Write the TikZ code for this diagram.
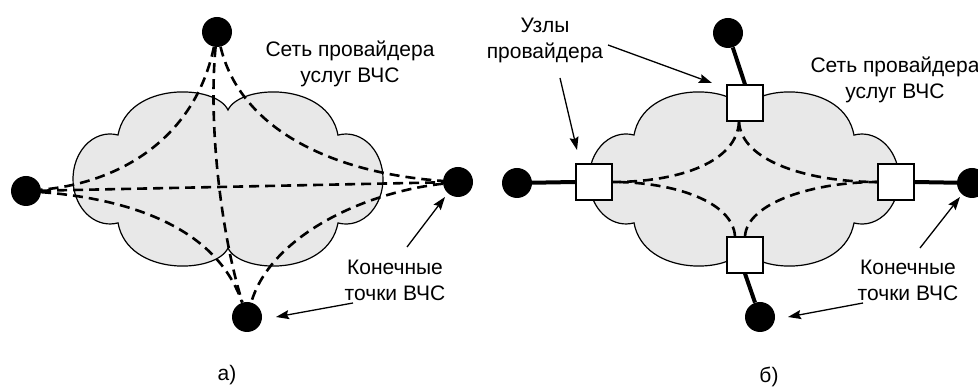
\documentclass[tikz,border=0pt]{standalone}
\usepackage{fontspec}
\setmainfont{Liberation Sans}
\usetikzlibrary{arrows.meta}
\definecolor{cloudgray}{RGB}{232,232,232}
\pgfdeclarelayer{cl}
\pgfdeclarelayer{ln}
\pgfsetlayers{cl,ln,main}
\tikzset{
 cloudshape/.style={fill=cloudgray, draw=black, line width=1.2pt},
 dsh/.style={line width=2.6pt, dash pattern=on 10pt off 6pt},
 enddot/.style={circle, fill=black, minimum size=30pt, inner sep=0pt},
 pnode/.style={draw, fill=white, line width=1.2pt, minimum size=36pt, inner sep=0pt},
 thk/.style={line width=4pt},
 lbl/.style={font=\fontsize{21}{26}\selectfont, align=center, inner sep=0pt},
 arr/.style={line width=1.3pt, -{Stealth[length=13pt, width=9pt, inset=2pt]}},
}
\newcommand\mycloud[2]{%
 \begin{scope}[shift={(#1,#2)}]
  \path[cloudshape] (0,69) .. controls (12,95) and (100,98) .. (110,43.9)
   arc[start angle=102.5, end angle=-102.5, x radius=37pt, y radius=45pt]
   .. controls (100,-98) and (12,-95) .. (0,-69)
   .. controls (-12,-95) and (-100,-98) .. (-110,-43.9)
   arc[start angle=-77.5, end angle=-282.5, x radius=37pt, y radius=45pt]
   .. controls (-100,98) and (-12,95) .. (0,69) -- cycle;
 \end{scope}}
\begin{document}
\begin{tikzpicture}[x=1pt, y=1pt]
\useasboundingbox (0,0) rectangle (978,388);
\clip (0,0) rectangle (978,388);
\begin{pgfonlayer}{cl}
\mycloud{228}{209}
\mycloud{744}{209}
\end{pgfonlayer}
% ---------- panel a ----------
\node[enddot] (aT) at (217,356) {};
\node[enddot] (aL) at (26,197) {};
\node[enddot] (aR) at (458,206) {};
\node[enddot] (aB) at (247,71) {};
\begin{pgfonlayer}{ln}
\draw[dsh] (aT) .. controls (195,250) and (120,205) .. (aL);
\draw[dsh] (aT) .. controls (240,260) and (330,215) .. (aR);
\draw[dsh] (aT) .. controls (208,260) and (222,150) .. (aB);
\draw[dsh] (aL) -- (aR);
\draw[dsh] (aL) .. controls (120,190) and (215,165) .. (aB);
\draw[dsh] (aR) .. controls (360,195) and (270,150) .. (aB);
\end{pgfonlayer}
\node[lbl] (aNet) at (350,324.5) {Сеть провайдера\\услуг ВЧС};
\node[lbl] (aEnd) at (395,107.5) {Конечные\\точки ВЧС};
\node[lbl] (aCap) at (227,13) {а)};
\coordinate (a1s) at (407,141);
\coordinate (a1e) at (445,191);
\coordinate (a2s) at (353,85);
\coordinate (a2e) at (276,71);
\draw[arr] (a1s) -- (a1e);
\draw[arr] (a2s) -- (a2e);
% ---------- panel b ----------
\node[pnode] (bTS) at (745,285) {};
\node[pnode] (bBS) at (745,133) {};
\node[pnode] (bLS) at (594,206) {};
\node[pnode] (bRS) at (896,206) {};
\node[enddot] (bTD) at (728,355) {};
\node[enddot] (bBD) at (760,71) {};
\node[enddot] (bLD) at (517,205) {};
\node[enddot] (bRD) at (972,205) {};
\begin{pgfonlayer}{ln}
\draw[dsh] ([xshift=-6pt]bTS.south) .. controls +(-2,-40) and +(68,0) .. (bLS.east);
\draw[dsh] ([xshift=-6pt]bTS.south) .. controls +(2,-40) and +(-68,0) .. (bRS.west);
\draw[dsh] ([xshift=-10pt]bBS.north) .. controls +(-2,34) and +(63,0) .. (bLS.east);
\draw[dsh] (bBS.north) .. controls +(2,34) and +(-63,0) .. (bRS.west);
\draw[thk] (bTD) -- (bTS.north);
\draw[thk] (bBS.south) -- (bBD);
\draw[thk] (bLD) -- (bLS.west);
\draw[thk] (bRS.east) -- (bRD);
\end{pgfonlayer}
\node[lbl] (bNodes) at (545,347.5) {Узлы\\провайдера};
\node[lbl] (bNet) at (895,308) {Сеть провайдера\\услуг ВЧС};
\node[lbl] (bEnd) at (908,107.5) {Конечные\\точки ВЧС};
\node[lbl] (bCap) at (769,11) {б)};
\coordinate (b1s) at (608,343);
\coordinate (b1e) at (712,305);
\coordinate (b2s) at (560,310);
\coordinate (b2e) at (577,238);
\coordinate (b3s) at (920,140);
\coordinate (b3e) at (960,191);
\coordinate (b4s) at (863,85);
\coordinate (b4e) at (788,71);
\draw[arr] (b1s) -- (b1e);
\draw[arr] (b2s) -- (b2e);
\draw[arr] (b3s) -- (b3e);
\draw[arr] (b4s) -- (b4e);
\end{tikzpicture}
\end{document}
